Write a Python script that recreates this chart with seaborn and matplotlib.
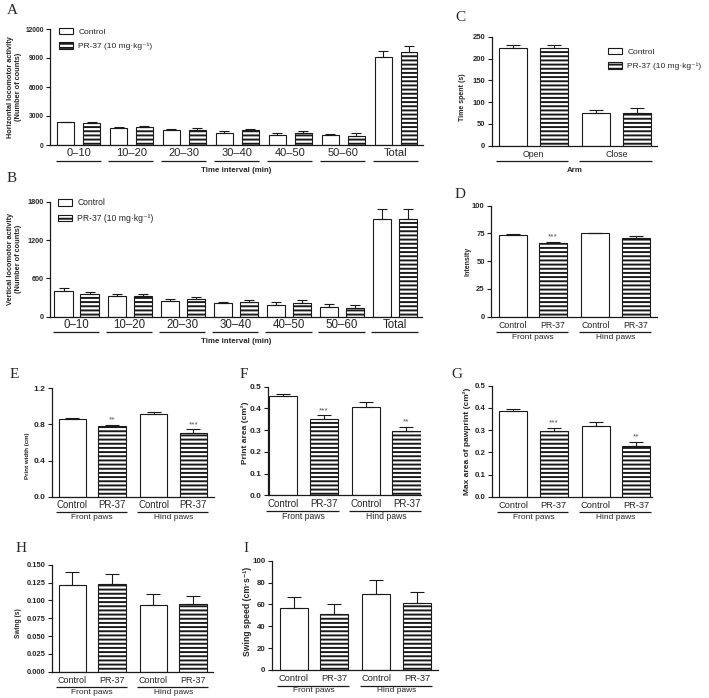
import numpy as np
import pandas as pd
import matplotlib
matplotlib.use("Agg")
import matplotlib.pyplot as plt
import matplotlib.transforms as mtrans
from matplotlib.patches import Patch
import seaborn as sns

# ---------------- data ----------------
groups = ["Control", "PR-37"]
legend_labels = ["Control", "PR-37 (10 mg·kg⁻¹)"]

time_bins = ["0–10", "10–20", "20–30", "30–40", "40–50", "50–60", "Total"]
horiz_control = [2350, 1800, 1560, 1220, 1040, 1000, 9100]
horiz_control_sem = [70, 70, 140, 230, 170, 100, 650]
horiz_pr37 = [2250, 1850, 1600, 1520, 1240, 940, 9620]
horiz_pr37_sem = [180, 100, 170, 140, 200, 260, 650]

vert_control = [395, 323, 250, 209, 188, 151, 1525]
vert_control_sem = [48, 37, 21, 26, 42, 47, 165]
vert_pr37 = [355, 318, 282, 230, 214, 136, 1525]
vert_pr37_sem = [31, 32, 31, 31, 42, 47, 165]

arms = ["Open", "Close"]
arm_control = [223, 76]
arm_control_sem = [7, 7]
arm_pr37 = [223, 76]
arm_pr37_sem = [9, 11]

paws = ["Front paws", "Hind paws"]
paw_tick_labels = ["Control", "PR-37", "Control", "PR-37"]

intensity_control = [73.5, 75.2]
intensity_control_sem = [1.0, 0.5]
intensity_pr37 = [66.0, 71.2]
intensity_pr37_sem = [1.4, 1.2]
intensity_stars = ["***", ""]

width_control = [0.865, 0.91]
width_control_sem = [0.01, 0.03]
width_pr37 = [0.785, 0.705]
width_pr37_sem = [0.012, 0.04]
width_stars = ["**", "***"]

area_control = [0.456, 0.405]
area_control_sem = [0.009, 0.024]
area_pr37 = [0.353, 0.294]
area_pr37_sem = [0.015, 0.022]
area_stars = ["***", "**"]

maxarea_control = [0.387, 0.318]
maxarea_control_sem = [0.008, 0.019]
maxarea_pr37 = [0.295, 0.228]
maxarea_pr37_sem = [0.016, 0.018]
maxarea_stars = ["***", "**"]

swing_control = [0.1215, 0.0935]
swing_control_sem = [0.018, 0.015]
swing_pr37 = [0.1224, 0.0953]
swing_pr37_sem = [0.015, 0.011]

speed_control = [56.7, 69.2]
speed_control_sem = [10.4, 12.8]
speed_pr37 = [51.0, 61.0]
speed_pr37_sem = [9.1, 10.0]

# ---------------- style ----------------
sns.set_style("ticks")
plt.rcParams["font.family"] = ["Liberation Sans", "DejaVu Sans"]
plt.rcParams["hatch.linewidth"] = 1.4
plt.rcParams["hatch.color"] = "black"

EDGE = "#1a1a1a"
W, H = 709, 698
fig = plt.figure(figsize=(W / 100, H / 100), dpi=100)
fig.patch.set_facecolor("white")


def add_ax(l, t, r, b):
    return fig.add_axes([l / W, 1 - b / H, (r - l) / W, (b - t) / H])


def fy(px):
    return 1 - px / H


def draw(ax, cats, ctrl, ctrl_sem, pr, pr_sem, *, gap, capsize, xlim, yticks, yfmt,
         ytick_fs, bottom_px, ylabel, ylabel_fs, ylabel_x, ylabel_y,
         mode="cat", xtick_fs=7, stars=None, group_fs=6, xlabel=None, xlabel_fs=5.7,
         star_fs=6):
    df = pd.DataFrame({
        "cat": list(cats) * 2,
        "group": [groups[0]] * len(cats) + [groups[1]] * len(cats),
        "value": list(ctrl) + list(pr),
    })
    sns.barplot(data=df, x="cat", y="value", hue="group", order=cats, hue_order=groups,
                palette=["white", "white"], edgecolor=EDGE, linewidth=0.8, width=0.98,
                gap=gap, errorbar=None, legend=False, ax=ax)
    bar_info = []
    for cont, hatch, sem, gi in zip(ax.containers, ["", "----"], [ctrl_sem, pr_sem], [0, 1]):
        patches = sorted(cont.patches, key=lambda p: p.get_x())
        xs, hs = [], []
        for p in patches:
            p.set_hatch(hatch)
            xs.append(p.get_x() + p.get_width() / 2)
            hs.append(p.get_height())
            bar_info.append((p.get_x(), p.get_x() + p.get_width()))
        ax.errorbar(xs, hs, yerr=[np.zeros(len(sem)), sem], fmt="none", ecolor=EDGE,
                    elinewidth=0.8, capsize=capsize, capthick=0.8, zorder=3)
        if gi == 1 and stars is not None:
            for x, h, s, st in zip(xs, hs, sem, stars):
                if st:
                    ax.annotate(st, (x, h + s), xytext=(0, 1.0), textcoords="offset points",
                                ha="center", va="bottom", fontsize=star_fs, color="#555555")
    ax.set_xlim(*xlim)
    ax.set_ylim(yticks[0], yticks[-1])
    ax.set_yticks(yticks)
    ax.set_yticklabels([yfmt.format(v) for v in yticks], fontsize=ytick_fs, fontweight="bold")
    ax.tick_params(axis="y", length=3, width=0.8, pad=1.5, color=EDGE)
    sns.despine(ax=ax)
    for s in ("left", "bottom"):
        ax.spines[s].set_color(EDGE)
        ax.spines[s].set_linewidth(0.9)

    blend = mtrans.blended_transform_factory(ax.transData, fig.transFigure)
    ncat = len(cats)
    lefts = sorted(b[0] for b in bar_info)
    rights = sorted(b[1] for b in bar_info)
    em = xtick_fs * 100 / 72
    pad_pt = max(0.5, (9 - 0.55 * em) * 0.72)
    if mode == "cat":
        ax.set_xticks(range(ncat))
        ax.set_xticklabels(cats, fontsize=xtick_fs)
    else:
        centers = sorted((a + b) / 2 for a, b in bar_info)
        ax.set_xticks(centers)
        ax.set_xticklabels(paw_tick_labels, fontsize=xtick_fs)
    ax.tick_params(axis="x", length=0, pad=pad_pt)
    ax.set_xlabel("")
    line_y = fy(bottom_px + 15.5)
    for i in range(ncat):
        x0 = lefts[2 * i] - 0.03
        x1 = rights[2 * i + 1] + 0.01
        ax.plot([x0, x1], [line_y, line_y], transform=blend, color=EDGE, lw=0.9,
                clip_on=False, solid_capstyle="butt")
        if mode != "cat":
            ax.text(i, fy(bottom_px + 21), cats[i], transform=blend, ha="center",
                    va="center", fontsize=group_fs)
    if xlabel:
        ax.text((xlim[0] + xlim[1]) / 2, fy(bottom_px + 25), xlabel, transform=blend,
                ha="center", va="center", fontsize=xlabel_fs, fontweight="bold")
    ax.set_ylabel(ylabel, fontsize=ylabel_fs, fontweight="bold", multialignment="center")
    ax.yaxis.label.set_verticalalignment("center")
    ax.yaxis.set_label_coords(ylabel_x / W, fy(ylabel_y), transform=fig.transFigure)


def legend(ax, x_px, y_px, fs):
    handles = [Patch(facecolor="white", edgecolor=EDGE, linewidth=0.8, hatch=h)
               for h in ["", "----"]]
    ax.legend(handles, legend_labels, loc="upper left", bbox_to_anchor=(x_px / W, fy(y_px)),
              bbox_transform=fig.transFigure, frameon=False, fontsize=fs,
              handlelength=1.7, handleheight=0.8, handletextpad=0.6,
              labelspacing=0.75, borderpad=0, borderaxespad=0)


# ---- A ----
axA = add_ax(50, 29, 423, 145)
draw(axA, time_bins, horiz_control, horiz_control_sem, horiz_pr37, horiz_pr37_sem,
     gap=0.347, capsize=3.6, xlim=(-0.54, 6.51), yticks=[0, 3000, 6000, 9000, 12000],
     yfmt="{:d}", ytick_fs=4.8, bottom_px=145,
     ylabel="Horizontal locomotor activity\n(Number of counts)", ylabel_fs=5.3,
     ylabel_x=15, ylabel_y=87, mode="cat", xtick_fs=8, xlabel="Time interval (min)")
legend(axA, 59, 28, 6)

# ---- B ----
axB = add_ax(50, 201.7, 421.7, 316.7)
draw(axB, time_bins, vert_control, vert_control_sem, vert_pr37, vert_pr37_sem,
     gap=0.3, capsize=3.6, xlim=(-0.5, 6.5), yticks=[0, 600, 1200, 1800],
     yfmt="{:d}", ytick_fs=5.2, bottom_px=316.7,
     ylabel="Vertical locomotor activity\n(Number of counts)", ylabel_fs=5.3,
     ylabel_x=15, ylabel_y=259, mode="cat", xtick_fs=8.3, xlabel="Time interval (min)")
legend(axB, 57.5, 198.5, 6.2)

# ---- C ----
axC = add_ax(491.7, 36.7, 657, 145.7)
draw(axC, arms, arm_control, arm_control_sem, arm_pr37, arm_pr37_sem,
     gap=0.31, capsize=5, xlim=(-0.5, 1.49), yticks=[0, 50, 100, 150, 200, 250],
     yfmt="{:d}", ytick_fs=5.5, bottom_px=145.7, ylabel="Time spent (s)", ylabel_fs=5,
     ylabel_x=463, ylabel_y=97, mode="cat", xtick_fs=6.3, xlabel="Arm")
legend(axC, 608.3, 48, 6.0)

# ---- D ----
axD = add_ax(491, 205.7, 657, 316.7)
draw(axD, paws, intensity_control, intensity_control_sem, intensity_pr37, intensity_pr37_sem,
     gap=0.31, capsize=5, xlim=(-0.505, 1.5), yticks=[0, 25, 50, 75, 100],
     yfmt="{:d}", ytick_fs=5.5, bottom_px=316.7, ylabel="Intensity", ylabel_fs=5,
     ylabel_x=468, ylabel_y=261, mode="bar", xtick_fs=6.3, group_fs=6,
     stars=intensity_stars)

# ---- E ----
axE = add_ax(51.7, 388.3, 214, 496.7)
draw(axE, paws, width_control, width_control_sem, width_pr37, width_pr37_sem,
     gap=0.306, capsize=5, xlim=(-0.5, 1.5), yticks=[0.0, 0.4, 0.8, 1.2],
     yfmt="{:.1f}", ytick_fs=6, bottom_px=496.7, ylabel="Print width (cm)", ylabel_fs=4.4,
     ylabel_x=27, ylabel_y=456, mode="bar", xtick_fs=6.9, group_fs=6, stars=width_stars)

# ---- F ----
axF = add_ax(267.7, 386.7, 421, 495.3)
draw(axF, paws, area_control, area_control_sem, area_pr37, area_pr37_sem,
     gap=0.306, capsize=5, xlim=(-0.43, 1.42), yticks=[0.0, 0.1, 0.2, 0.3, 0.4, 0.5],
     yfmt="{:.1f}", ytick_fs=6.0, bottom_px=495.3, ylabel="Print area (cm²)", ylabel_fs=6.0,
     ylabel_x=245, ylabel_y=433, mode="bar", xtick_fs=7, group_fs=6.2, stars=area_stars)

# ---- G ----
axG = add_ax(491.7, 385.7, 651.7, 496.7)
draw(axG, paws, maxarea_control, maxarea_control_sem, maxarea_pr37, maxarea_pr37_sem,
     gap=0.306, capsize=5, xlim=(-0.505, 1.435), yticks=[0.0, 0.1, 0.2, 0.3, 0.4, 0.5],
     yfmt="{:.1f}", ytick_fs=5.7, bottom_px=496.7, ylabel="Max area of pawprint (cm²)",
     ylabel_fs=6, ylabel_x=467, ylabel_y=441, mode="bar", xtick_fs=6.7, group_fs=6,
     stars=maxarea_stars)

# ---- H ----
axH = add_ax(51.7, 564.7, 213, 671.7)
draw(axH, paws, swing_control, swing_control_sem, swing_pr37, swing_pr37_sem,
     gap=0.306, capsize=5, xlim=(-0.5, 1.49),
     yticks=[0.0, 0.025, 0.05, 0.075, 0.1, 0.125, 0.15],
     yfmt="{:.3f}", ytick_fs=5.4, bottom_px=671.7, ylabel="Swing (s)", ylabel_fs=4.8,
     ylabel_x=18, ylabel_y=623, mode="bar", xtick_fs=6.5, group_fs=6)

# ---- I ----
axI = add_ax(271.7, 560.7, 438, 670)
draw(axI, paws, speed_control, speed_control_sem, speed_pr37, speed_pr37_sem,
     gap=0.306, capsize=5, xlim=(-0.51, 1.5), yticks=[0, 20, 40, 60, 80, 100],
     yfmt="{:d}", ytick_fs=5.7, bottom_px=670, ylabel="Swing speed (cm·s⁻¹)", ylabel_fs=6.2,
     ylabel_x=248, ylabel_y=611, mode="bar", xtick_fs=6.7, group_fs=6)

# ---- panel letters ----
for letter, x, y in [("A", 12, 10), ("B", 12, 178), ("C", 460, 17.5), ("D", 460, 194),
                     ("E", 14, 375), ("F", 244, 375), ("G", 457, 375), ("H", 21, 548),
                     ("I", 245.5, 548)]:
    fig.text(x / W, fy(y), letter, family="Liberation Serif", fontsize=11,
             ha="center", va="center")

fig.savefig("out.png", dpi=100, facecolor="white")
